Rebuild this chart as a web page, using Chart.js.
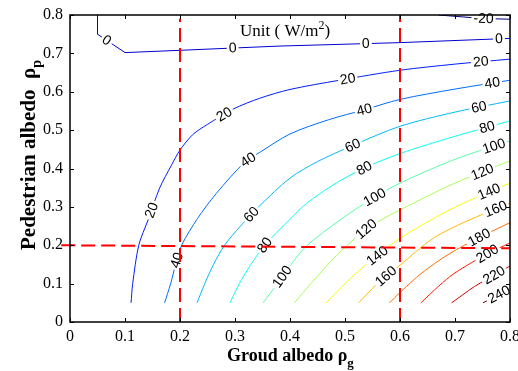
<!DOCTYPE html>
<html>
<head>
<meta charset="utf-8">
<script src="https://cdn.jsdelivr.net/npm/chart.js@4.4.0/dist/chart.umd.min.js"></script>
<style>
  html, body { margin: 0; padding: 0; background: #fff; }
  canvas { display: block; }
</style>
</head>
<body>
<canvas id="albedo" width="518" height="371"></canvas>
<script>
// contour levels, W/m2
const levels = [-20, 0, 20, 40, 60, 80, 100, 120, 140, 160, 180, 200, 220, 240];

// contour paths as [ground albedo, pedestrian albedo]
const lineM20 = [[0.67, 0.8], [0.75, 0.791], [0.8, 0.789]];
const line0 = [[0.05, 0.8], [0.05, 0.75], [0.1, 0.702], [0.2, 0.708], [0.38, 0.719], [0.6, 0.728], [0.8, 0.739]];
const line20 = [[0.111, 0.05], [0.114, 0.1], [0.125, 0.2], [0.142, 0.266], [0.163, 0.349], [0.185, 0.41], [0.2, 0.448],
  [0.223, 0.488], [0.25, 0.515], [0.297, 0.555], [0.345, 0.583], [0.4, 0.606], [0.49, 0.63], [0.6, 0.656], [0.7, 0.672], [0.8, 0.685]];
const line40 = [[0.172, 0.05], [0.183, 0.1], [0.192, 0.15], [0.203, 0.2], [0.232, 0.27], [0.266, 0.335], [0.318, 0.417],
  [0.345, 0.442], [0.4, 0.49], [0.47, 0.527], [0.535, 0.553], [0.6, 0.58], [0.7, 0.607], [0.8, 0.63]];
const line60 = [[0.231, 0.05], [0.245, 0.1], [0.261, 0.15], [0.281, 0.2], [0.31, 0.25], [0.345, 0.303], [0.4, 0.375],
  [0.45, 0.418], [0.514, 0.46], [0.6, 0.51], [0.7, 0.547], [0.8, 0.576]];
const line80 = [[0.291, 0.05], [0.308, 0.1], [0.329, 0.15], [0.354, 0.2], [0.399, 0.266], [0.43, 0.309], [0.484, 0.362],
  [0.535, 0.401], [0.6, 0.439], [0.7, 0.484], [0.8, 0.524]];
const line100 = [[0.351, 0.05], [0.377, 0.1], [0.402, 0.15], [0.43, 0.198], [0.49, 0.265], [0.55, 0.322], [0.6, 0.362],
  [0.7, 0.424], [0.8, 0.472]];
const line120 = [[0.408, 0.05], [0.438, 0.1], [0.469, 0.15], [0.502, 0.197], [0.541, 0.245], [0.6, 0.292], [0.7, 0.362], [0.8, 0.42]];
const line140 = [[0.466, 0.05], [0.5, 0.1], [0.54, 0.152], [0.6, 0.218], [0.69, 0.292], [0.76, 0.338], [0.8, 0.362]];
const line160 = [[0.525, 0.05], [0.555, 0.095], [0.575, 0.12], [0.6, 0.148], [0.659, 0.217], [0.72, 0.262], [0.8, 0.31]];
const line180 = [[0.581, 0.05], [0.6, 0.077], [0.64, 0.128], [0.69, 0.178], [0.744, 0.22], [0.8, 0.259]];
const line200 = [[0.638, 0.05], [0.67, 0.093], [0.7, 0.128], [0.759, 0.178], [0.8, 0.206]];
const line220 = [[0.694, 0.05], [0.735, 0.092], [0.771, 0.122], [0.8, 0.146]];
const line240 = [[0.751, 0.05], [0.78, 0.072], [0.8, 0.088]];
const contourPaths = [lineM20, line0, line20, line40, line60, line80, line100, line120, line140,
  line160, line180, line200, line220, line240];

// inline label spots on each contour
const labelsM20 = [[0.752, 0.79]];
const labels0 = [[0.065, 0.73], [0.296, 0.71], [0.538, 0.724], [0.78, 0.736]];
const labels20 = [[0.151, 0.29], [0.281, 0.54], [0.505, 0.633], [0.747, 0.678]];
const labels40 = [[0.197, 0.16], [0.324, 0.422], [0.535, 0.553], [0.768, 0.622]];
const labels60 = [[0.33, 0.28], [0.514, 0.46], [0.744, 0.557]];
const labels80 = [[0.354, 0.2], [0.535, 0.401], [0.759, 0.505]];
const labels100 = [[0.387, 0.117], [0.554, 0.325], [0.771, 0.457]];
const labels120 = [[0.541, 0.238], [0.75, 0.39]];
const labels140 = [[0.56, 0.17], [0.762, 0.339]];
const labels160 = [[0.575, 0.118], [0.774, 0.294]];
const labels180 = [[0.744, 0.22]];
const labels200 = [[0.759, 0.178]];
const labels220 = [[0.771, 0.122]];
const labels240 = [[0.78, 0.072]];
const contourLabels = [labelsM20, labels0, labels20, labels40, labels60, labels80, labels100, labels120,
  labels140, labels160, labels180, labels200, labels220, labels240];

// reference cases (dashed red)
const refGround02 = [[0.2, 0], [0.2, 0.79]];
const refGround06 = [[0.6, 0], [0.6, 0.8]];
const refPedestrian02 = [[-0.016, 0.2], [0.8, 0.192]];

const xTicks = [0, 0.1, 0.2, 0.3, 0.4, 0.5, 0.6, 0.7, 0.8];
const yTicks = [0, 0.1, 0.2, 0.3, 0.4, 0.5, 0.6, 0.7, 0.8];

const SERIF = '"Liberation Serif", "Times New Roman", serif';
const SANS = '"Liberation Sans", Arial, sans-serif';

// matlab style jet colormap
function jet(t) {
  const c = v => Math.round(255 * Math.max(0, Math.min(1, v)));
  return `rgb(${c(1.5 - Math.abs(4 * t - 3))},${c(1.5 - Math.abs(4 * t - 2))},${c(1.5 - Math.abs(4 * t - 1))})`;
}

const toXY = pts => pts.map(([a, b]) => ({ x: a, y: b }));

const refStyle = {
  borderColor: '#ff0000',
  borderWidth: 2,
  borderDash: [14, 6],
  pointRadius: 0,
  showLine: true,
  tension: 0,
  clip: false
};

// dashed lines first so they end up drawn on top of the contours
const datasets = [
  { ...refStyle, data: toXY(refGround02) },
  { ...refStyle, data: toXY(refGround06) },
  { ...refStyle, data: toXY(refPedestrian02) }
];
contourPaths.forEach((path, k) => {
  datasets.push({
    data: toXY(path),
    borderColor: jet(k / (levels.length - 1)),
    borderWidth: 1,
    pointRadius: 0,
    showLine: true,
    tension: k < 2 ? 0 : 0.3
  });
});

function drawContourLabels(chart) {
  const { ctx } = chart;
  const xs = chart.scales.x, ys = chart.scales.y;
  ctx.save();
  ctx.font = '14px ' + SANS;
  ctx.textAlign = 'center';
  ctx.textBaseline = 'middle';
  contourLabels.forEach((spots, k) => {
    const pts = contourPaths[k].map(([a, b]) => [xs.getPixelForValue(a), ys.getPixelForValue(b)]);
    spots.forEach(([a, b]) => {
      const px = xs.getPixelForValue(a), py = ys.getPixelForValue(b);
      // snap onto the nearest segment and follow its direction
      let best = null;
      for (let i = 0; i < pts.length - 1; i++) {
        const [x1, y1] = pts[i], [x2, y2] = pts[i + 1];
        const dx = x2 - x1, dy = y2 - y1;
        let t = ((px - x1) * dx + (py - y1) * dy) / (dx * dx + dy * dy);
        t = Math.max(0, Math.min(1, t));
        const qx = x1 + t * dx, qy = y1 + t * dy;
        const d = (qx - px) ** 2 + (qy - py) ** 2;
        if (!best || d < best.d) best = { d, qx, qy, ang: Math.atan2(dy, dx) };
      }
      let ang = best.ang;
      if (ang > Math.PI / 2) ang -= Math.PI;
      if (ang < -Math.PI / 2) ang += Math.PI;
      const text = String(levels[k]);
      const w = ctx.measureText(text).width;
      ctx.save();
      ctx.translate(best.qx, best.qy);
      ctx.rotate(ang);
      ctx.fillStyle = '#fff';
      ctx.fillRect(-w / 2 - 2, -5, w + 4, 10);
      ctx.fillStyle = '#000';
      ctx.fillText(text, 0, 0.5);
      ctx.restore();
    });
  });
  ctx.restore();
}

const contourLabelPlugin = {
  id: 'contourLabels',
  beforeDatasetDraw(chart, args) {
    if (args.index === 2) drawContourLabels(chart);
  }
};

// axes box with inward ticks, titles and unit note
const framePlugin = {
  id: 'frame',
  afterDraw(chart) {
    const { ctx, chartArea: { left, right, top, bottom } } = chart;
    const xs = chart.scales.x, ys = chart.scales.y;
    ctx.save();
    ctx.strokeStyle = '#000';
    ctx.lineWidth = 1.5;
    ctx.strokeRect(left, top, right - left, bottom - top);
    ctx.lineWidth = 1;
    ctx.beginPath();
    xTicks.forEach(v => {
      const p = Math.round(xs.getPixelForValue(v)) + 0.5;
      ctx.moveTo(p, bottom); ctx.lineTo(p, bottom - 4);
      ctx.moveTo(p, top); ctx.lineTo(p, top + 4);
    });
    yTicks.forEach(v => {
      const p = Math.round(ys.getPixelForValue(v)) + 0.5;
      ctx.moveTo(left, p); ctx.lineTo(left + 4, p);
      ctx.moveTo(right, p); ctx.lineTo(right - 4, p);
    });
    ctx.stroke();

    ctx.fillStyle = '#000';
    ctx.textBaseline = 'alphabetic';
    ctx.textAlign = 'left';

    // x title
    ctx.font = 'bold 18px ' + SERIF;
    let tx = 227;
    const xt = 'Groud albedo ';
    ctx.fillText(xt, tx, 361);
    tx += ctx.measureText(xt).width;
    ctx.fillText('\u03c1', tx, 361);
    tx += ctx.measureText('\u03c1').width;
    ctx.font = 'bold 13px ' + SERIF;
    ctx.fillText('g', tx, 367);

    // y title, rotated
    ctx.save();
    ctx.translate(35, 250);
    ctx.rotate(-Math.PI / 2);
    ctx.font = 'bold 21px ' + SERIF;
    const yt = 'Pedestrian albedo  ';
    ctx.fillText(yt, 0, 0);
    let ty = ctx.measureText(yt).width;
    ctx.fillText('\u03c1', ty, 0);
    ty += ctx.measureText('\u03c1').width;
    ctx.font = 'bold 14px ' + SERIF;
    ctx.fillText('p', ty, 6);
    ctx.restore();

    // unit note
    ctx.font = '17px ' + SERIF;
    let ux = 240;
    const ut = 'Unit ( W/m';
    ctx.fillText(ut, ux, 36);
    ux += ctx.measureText(ut).width;
    ctx.font = '12px ' + SERIF;
    ctx.fillText('2', ux, 29);
    ux += ctx.measureText('2').width;
    ctx.font = '17px ' + SERIF;
    ctx.fillText(')', ux, 36);
    ctx.restore();
  }
};

const tickFmt = v => String(+Number(v).toFixed(1));

new Chart(document.getElementById('albedo'), {
  type: 'scatter',
  data: { datasets },
  options: {
    responsive: false,
    animation: false,
    devicePixelRatio: 1,
    layout: { padding: { top: 15, right: 8, left: 0, bottom: 0 } },
    plugins: { legend: { display: false }, tooltip: { enabled: false } },
    scales: {
      x: {
        type: 'linear', min: 0, max: 0.8,
        afterBuildTicks: s => { s.ticks = xTicks.map(v => ({ value: v })); },
        afterFit: s => { s.height = 49; s.paddingLeft = 0; s.paddingRight = 0; },
        ticks: { font: { family: SERIF, size: 16 }, color: '#000', padding: 5, maxRotation: 0, callback: tickFmt },
        grid: { display: false, drawTicks: false },
        border: { display: false }
      },
      y: {
        type: 'linear', min: 0, max: 0.8,
        afterBuildTicks: s => { s.ticks = yTicks.map(v => ({ value: v })); },
        afterFit: s => { s.width = 70; s.paddingTop = 0; s.paddingBottom = 0; },
        ticks: { font: { family: SERIF, size: 16 }, color: '#000', padding: 7, callback: tickFmt },
        grid: { display: false, drawTicks: false },
        border: { display: false }
      }
    }
  },
  plugins: [contourLabelPlugin, framePlugin]
});
</script>
</body>
</html>
